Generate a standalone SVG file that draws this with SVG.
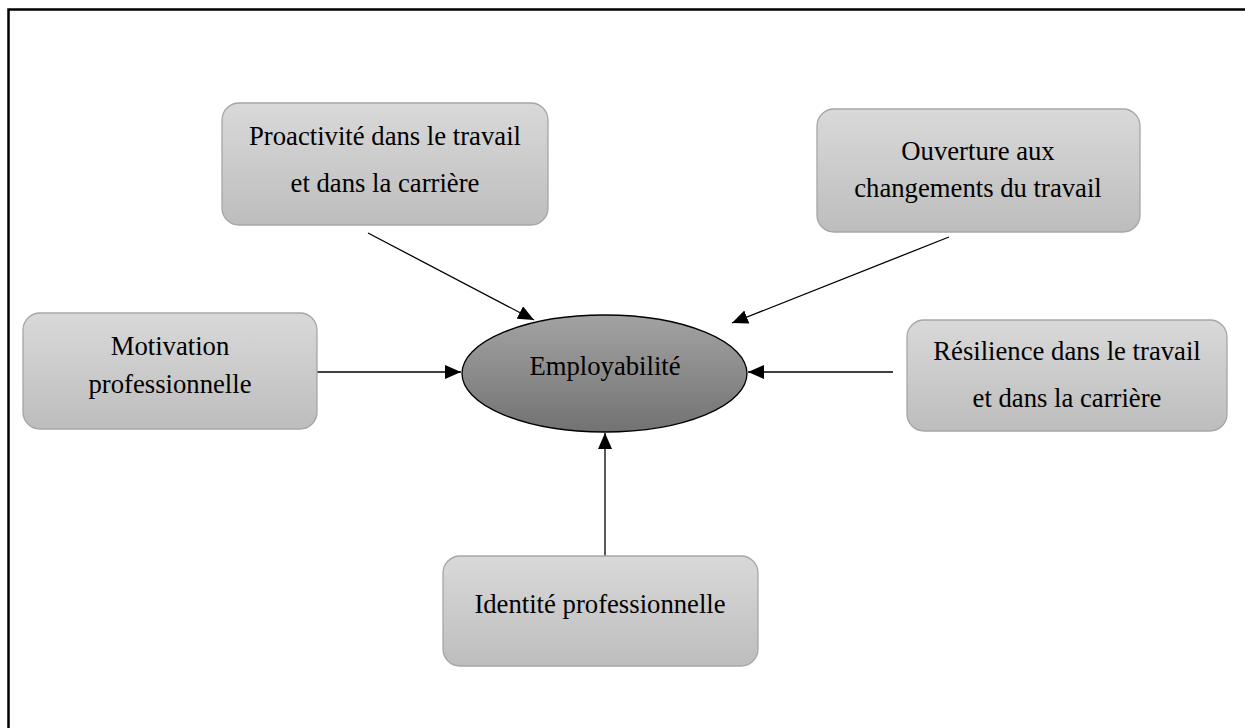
<svg xmlns="http://www.w3.org/2000/svg" width="1245" height="728" viewBox="0 0 1245 728">
<defs>
<linearGradient id="boxGrad" x1="0" y1="0" x2="0" y2="1">
<stop offset="0" stop-color="#d9d9d9"/>
<stop offset="1" stop-color="#bdbdbd"/>
</linearGradient>
<linearGradient id="ellGrad" x1="0" y1="0" x2="0" y2="1">
<stop offset="0" stop-color="#a3a3a3"/>
<stop offset="1" stop-color="#727272"/>
</linearGradient>
<marker id="arrow" markerUnits="userSpaceOnUse" markerWidth="18" markerHeight="15" refX="16" refY="7" orient="auto">
<path d="M0,0 L16,7 L0,14 Z" fill="#000"/>
</marker>
</defs>
<style>
.box{fill:url(#boxGrad);stroke:#a6a6a6;stroke-width:1.3}
.ell{fill:url(#ellGrad);stroke:#000;stroke-width:1.3}
.t{font-family:"Liberation Serif","Times New Roman",serif;font-size:26.7px;fill:#000;text-anchor:middle}
.c{stroke:#000;stroke-width:1.3;fill:none;marker-end:url(#arrow)}
</style>
<rect x="0" y="0" width="1245" height="728" fill="#fff"/>
<rect id="frame" x="8.5" y="9.5" width="1300" height="800" fill="none" stroke="#000" stroke-width="2.5"/>
<g id="connectors">
<line class="c" x1="368" y1="233" x2="534" y2="320"/>
<line class="c" x1="949" y1="237" x2="732" y2="323"/>
<line class="c" x1="317" y1="372" x2="461" y2="372"/>
<line class="c" x1="893" y1="372" x2="748" y2="372"/>
<line class="c" x1="605" y1="556" x2="605" y2="433"/>
</g>
<g id="node-proactivite">
<rect class="box" x="222" y="103" width="326" height="122" rx="17"/>
<text class="t" x="385" y="145">Proactivité dans le travail</text>
<text class="t" x="385" y="192">et dans la carrière</text>
</g>
<g id="node-ouverture">
<rect class="box" x="817" y="109" width="323" height="123" rx="17"/>
<text class="t" x="978" y="160">Ouverture aux</text>
<text class="t" x="978" y="197">changements du travail</text>
</g>
<g id="node-motivation">
<rect class="box" x="23" y="313" width="294" height="116" rx="17"/>
<text class="t" x="170" y="355">Motivation</text>
<text class="t" x="170" y="393">professionnelle</text>
</g>
<g id="node-resilience">
<rect class="box" x="907" y="320" width="320" height="111" rx="17"/>
<text class="t" x="1067" y="360">Résilience dans le travail</text>
<text class="t" x="1067" y="407">et dans la carrière</text>
</g>
<g id="node-identite">
<rect class="box" x="443" y="556" width="315" height="110" rx="17"/>
<text class="t" x="600" y="613">Identité professionnelle</text>
</g>
<g id="node-employabilite">
<ellipse class="ell" cx="604.5" cy="373.5" rx="142.5" ry="58.5"/>
<text class="t" x="605" y="375">Employabilité</text>
</g>
</svg>
